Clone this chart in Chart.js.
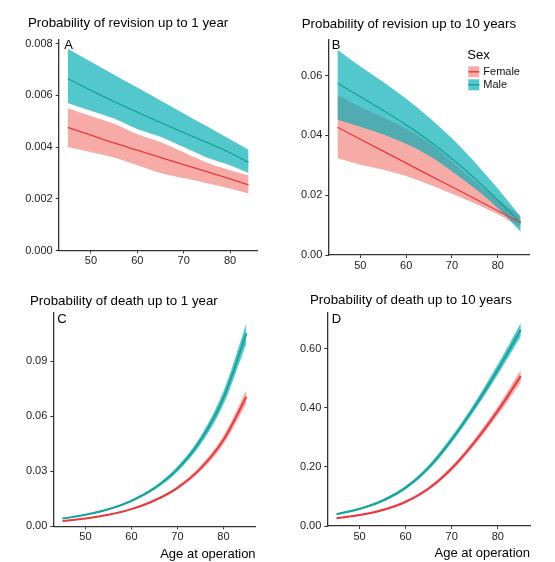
<!DOCTYPE html>
<html lang="en">
<head>
<meta charset="UTF-8">
<title>Probability of revision and death by age at operation</title>
<script src="https://cdn.jsdelivr.net/npm/chart.js"></script>
<style>
    body { margin: 0; background: #fff; }
    .panel { position: absolute; }
</style>
</head>
<body>
<div class="panel" style="left:0px;top:0px;width:272px;height:280px"><canvas id="chartA"></canvas></div>
<div class="panel" style="left:272px;top:0px;width:278px;height:280px"><canvas id="chartB"></canvas></div>
<div class="panel" style="left:0px;top:280px;width:272px;height:282px"><canvas id="chartC"></canvas></div>
<div class="panel" style="left:272px;top:280px;width:278px;height:282px"><canvas id="chartD"></canvas></div>

<script>
    // ages at operation (A stops at 84)
    const agesA = [45, 50, 55, 60, 65, 70, 75, 80, 84];
    const ages = [45, 50, 55, 60, 65, 70, 75, 80, 85];
    const ageTicks = [50, 60, 70, 80];

    // A - revision up to 1 year
    const femaleFitA = [0.00476, 0.00446, 0.00416, 0.00388, 0.00360, 0.00332, 0.00305, 0.00277, 0.00254];
    const femaleHiA  = [0.0055, 0.0052, 0.0049, 0.0045, 0.0042, 0.0038, 0.0034, 0.0031, 0.0029];
    const femaleLoA  = [0.0040, 0.0038, 0.0036, 0.0033, 0.0030, 0.0028, 0.0026, 0.0024, 0.0022];
    const maleFitA   = [0.00665, 0.00619, 0.00576, 0.00535, 0.00495, 0.00456, 0.00418, 0.00378, 0.00341];
    const maleHiA    = [0.0078, 0.0073, 0.0068, 0.0063, 0.0058, 0.0053, 0.0048, 0.0043, 0.0039];
    const maleLoA    = [0.0057, 0.0054, 0.0051, 0.0047, 0.0044, 0.0040, 0.0036, 0.0033, 0.0030];
    const yTicksA = [0, 0.002, 0.004, 0.006, 0.008];

    // B - revision up to 10 years
    const femaleFitB = [0.0427, 0.0387, 0.0347, 0.0307, 0.0267, 0.0228, 0.0188, 0.0148, 0.0108];
    const femaleHiB  = [0.0535, 0.0495, 0.0460, 0.0422, 0.0375, 0.0312, 0.0246, 0.0185, 0.0130];
    const femaleLoB  = [0.0323, 0.0302, 0.0285, 0.0264, 0.0236, 0.0205, 0.0172, 0.0136, 0.0092];
    const maleFitB   = [0.0574, 0.0529, 0.0483, 0.0435, 0.0382, 0.0322, 0.0256, 0.0184, 0.0108];
    const maleHiB    = [0.0686, 0.0630, 0.0578, 0.0522, 0.0460, 0.0390, 0.0310, 0.0222, 0.0128];
    const maleLoB    = [0.0452, 0.0429, 0.0403, 0.0372, 0.0332, 0.0280, 0.0222, 0.0157, 0.0078];
    const yTicksB = [0, 0.02, 0.04, 0.06];

    // C - death up to 1 year
    const femaleFitC = [0.0029, 0.0043, 0.0063, 0.0094, 0.0141, 0.0210, 0.0315, 0.0471, 0.0707];
    const femaleHiC  = [0.0031, 0.0045, 0.0066, 0.0098, 0.0147, 0.0219, 0.0330, 0.0494, 0.0743];
    const femaleLoC  = [0.0027, 0.0041, 0.0060, 0.0090, 0.0135, 0.0201, 0.0300, 0.0448, 0.0670];
    const maleFitC   = [0.0042, 0.0063, 0.0093, 0.0139, 0.0208, 0.0312, 0.0468, 0.0701, 0.1053];
    const maleHiC    = [0.0045, 0.0066, 0.0097, 0.0145, 0.0217, 0.0326, 0.0490, 0.0737, 0.1108];
    const maleLoC    = [0.0039, 0.0060, 0.0089, 0.0133, 0.0199, 0.0298, 0.0446, 0.0665, 0.0998];
    const yTicksC = [0, 0.03, 0.06, 0.09];

    // D - death up to 10 years
    const femaleFitD = [0.026, 0.037, 0.054, 0.082, 0.127, 0.195, 0.285, 0.390, 0.508];
    const femaleHiD  = [0.028, 0.040, 0.058, 0.087, 0.133, 0.203, 0.296, 0.405, 0.530];
    const femaleLoD  = [0.024, 0.034, 0.050, 0.077, 0.121, 0.187, 0.274, 0.375, 0.487];
    const maleFitD   = [0.040, 0.058, 0.086, 0.130, 0.198, 0.293, 0.405, 0.530, 0.665];
    const maleHiD    = [0.043, 0.062, 0.091, 0.136, 0.206, 0.304, 0.418, 0.547, 0.688];
    const maleLoD    = [0.037, 0.054, 0.081, 0.124, 0.190, 0.282, 0.392, 0.513, 0.642];
    const yTicksD = [0, 0.2, 0.4, 0.6];

    const femaleFill = 'rgba(242,110,104,0.58)';
    const maleFill = 'rgba(0,172,180,0.68)';
    const femaleLine = '#E8393F';
    const maleLine = '#17A398';
    const FONT = '"Liberation Sans", Arial, Helvetica, sans-serif';

    Chart.defaults.font.family = FONT;
    Chart.defaults.animation = false;

    function pts(xs, ys) {
        return xs.map((x, i) => ({ x: x, y: ys[i] }));
    }

    function band(xs, ys, fill, color, order) {
        return {
            data: pts(xs, ys),
            fill: fill,
            backgroundColor: color,
            borderColor: 'transparent',
            borderWidth: 0,
            order: order
        };
    }

    // panel title and corner letter, placed from the plot area
    function headerPlugin(p) {
        return {
            id: 'header',
            afterDraw(chart) {
                const ctx = chart.ctx;
                const a = chart.chartArea;
                ctx.save();
                ctx.fillStyle = '#000';
                ctx.font = '13.3px ' + FONT;
                ctx.textBaseline = 'middle';
                ctx.fillText(p.title, a.left + p.titleDx, a.top + p.titleDy);
                ctx.font = '13px ' + FONT;
                ctx.textBaseline = 'alphabetic';
                ctx.fillText(p.tag, a.left + p.tagDx, a.top + p.tagDy);
                ctx.restore();
            }
        };
    }

    const sexLegend = {
        id: 'sexLegend',
        afterDraw(chart) {
            const ctx = chart.ctx;
            const a = chart.chartArea;
            const x0 = a.left + 139;
            ctx.save();
            ctx.fillStyle = '#000';
            ctx.textBaseline = 'middle';
            ctx.font = '13px ' + FONT;
            ctx.fillText('Sex', x0, a.top + 16);
            const rows = [['Female', femaleFill, femaleLine, 27], ['Male', maleFill, maleLine, 40]];
            ctx.font = '11px ' + FONT;
            rows.forEach(r => {
                const ky = a.top + r[3];
                ctx.fillStyle = r[1];
                ctx.fillRect(x0 + 1, ky, 11, 11);
                ctx.strokeStyle = r[2];
                ctx.lineWidth = 1.4;
                ctx.beginPath();
                ctx.moveTo(x0 + 1, ky + 5.5);
                ctx.lineTo(x0 + 12, ky + 5.5);
                ctx.stroke();
                ctx.fillStyle = '#111';
                ctx.fillText(r[0], x0 + 16, ky + 6);
            });
            ctx.restore();
        }
    };

    const Y_WIDTH = 36;

    function makeChart(id, p) {
        const padLeft = p.area.left - p.left - Y_WIDTH;
        const padRight = (p.left + p.width) - p.area.right;
        const padTop = p.area.top - p.top;
        const padBottom = (p.top + p.height) - p.area.bottom - p.xHeight;

        const datasets = [
            band(p.xs, p.fHi, 1, femaleFill, 4),
            band(p.xs, p.fLo, false, 'transparent', 4),
            band(p.xs, p.mHi, 3, maleFill, 3),
            band(p.xs, p.mLo, false, 'transparent', 3),
            { data: pts(p.xs, p.fFit), borderColor: femaleLine, borderWidth: p.lw, fill: false, order: 2 },
            { data: pts(p.xs, p.mFit), borderColor: maleLine, borderWidth: p.lw, fill: false, order: 1 }
        ];

        const axisStyle = {
            grid: { drawOnChartArea: false, drawTicks: true, tickLength: 3, color: '#333', lineWidth: 1 },
            border: { display: true, color: '#333', width: 1.3 }
        };

        const plugins = [headerPlugin(p)];
        if (p.legend) plugins.push(sexLegend);

        new Chart(document.getElementById(id), {
            type: 'line',
            data: { datasets: datasets },
            options: {
                responsive: true,
                maintainAspectRatio: false,
                layout: { padding: { left: padLeft, right: padRight, top: padTop, bottom: padBottom } },
                elements: { point: { radius: 0 }, line: { cubicInterpolationMode: 'monotone' } },
                plugins: {
                    legend: { display: false },
                    tooltip: { enabled: false },
                    title: { display: false }
                },
                scales: {
                    x: Object.assign({
                        type: 'linear',
                        min: p.xMin,
                        max: p.xMax,
                        afterFit: s => { s.height = p.xHeight; },
                        afterBuildTicks: s => { s.ticks = ageTicks.map(v => ({ value: v })); },
                        ticks: { font: { size: 11 }, color: '#222', padding: 1 },
                        title: {
                            display: !!p.xTitle,
                            text: p.xTitle || '',
                            align: 'end',
                            color: '#000',
                            font: { size: 13 },
                            padding: { top: 0, bottom: 0 }
                        }
                    }, axisStyle),
                    y: Object.assign({
                        type: 'linear',
                        min: 0,
                        max: p.yMax,
                        afterFit: s => { s.width = Y_WIDTH; },
                        afterBuildTicks: s => { s.ticks = p.yTicks.map(v => ({ value: v })); },
                        ticks: {
                            font: { size: 11 },
                            color: '#222',
                            padding: 3,
                            callback: v => v.toFixed(p.dec)
                        }
                    }, axisStyle)
                }
            },
            plugins: plugins
        });
    }

    makeChart('chartA', {
        left: 0, top: 0, width: 272, height: 280,
        title: 'Probability of revision up to 1 year', titleDx: -30.7, titleDy: -17,
        tag: 'A', tagDx: 5.5, tagDy: 8.5,
        area: { left: 58.7, top: 40, right: 257.6, bottom: 250.5 }, xHeight: 20,
        xMin: 43.05, xMax: 85.95, yMax: 0.00814, yTicks: yTicksA, dec: 3, lw: 1.3,
        xs: agesA, fFit: femaleFitA, fHi: femaleHiA, fLo: femaleLoA,
        mFit: maleFitA, mHi: maleHiA, mLo: maleLoA
    });

    makeChart('chartB', {
        left: 272, top: 0, width: 278, height: 280,
        title: 'Probability of revision up to 10 years', titleDx: -26.6, titleDy: -15.3,
        tag: 'B', tagDx: 3.5, tagDy: 10,
        area: { left: 328.3, top: 39.3, right: 529.8, bottom: 255 }, xHeight: 20,
        xMin: 43, xMax: 87, yMax: 0.0721, yTicks: yTicksB, dec: 2, lw: 1.3,
        xs: ages, fFit: femaleFitB, fHi: femaleHiB, fLo: femaleLoB,
        mFit: maleFitB, mHi: maleHiB, mLo: maleLoB,
        legend: true
    });

    makeChart('chartC', {
        left: 0, top: 280, width: 272, height: 282,
        title: 'Probability of death up to 1 year', titleDx: -23.3, titleDy: -11,
        tag: 'C', tagDx: 4, tagDy: 10.5,
        area: { left: 53.3, top: 312.7, right: 255.6, bottom: 526.3 }, xHeight: 35.7,
        xTitle: 'Age at operation',
        xMin: 43, xMax: 87, yMax: 0.1166, yTicks: yTicksC, dec: 2, lw: 2,
        xs: ages, fFit: femaleFitC, fHi: femaleHiC, fLo: femaleLoC,
        mFit: maleFitC, mHi: maleHiC, mLo: maleLoC
    });

    makeChart('chartD', {
        left: 272, top: 280, width: 278, height: 282,
        title: 'Probability of death up to 10 years', titleDx: -17.3, titleDy: -12,
        tag: 'D', tagDx: 4.4, tagDy: 10.5,
        area: { left: 327.3, top: 312.7, right: 530, bottom: 526 }, xHeight: 35.7,
        xTitle: 'Age at operation',
        xMin: 43, xMax: 87, yMax: 0.723, yTicks: yTicksD, dec: 2, lw: 2,
        xs: ages, fFit: femaleFitD, fHi: femaleHiD, fLo: femaleLoD,
        mFit: maleFitD, mHi: maleHiD, mLo: maleLoD
    });
</script>
</body>
</html>
